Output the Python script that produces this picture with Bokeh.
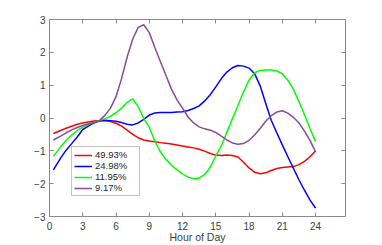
from bokeh.plotting import figure
from bokeh.models import LinearAxis, Range1d, FixedTicker, Legend, LegendItem
from bokeh.embed import file_html
from bokeh.resources import INLINE

hours = [0.35, 1, 1.5, 2, 2.5, 3, 3.5, 4, 4.5, 5, 5.5, 6, 6.5, 7, 7.5, 8, 8.5, 9,
         9.5, 10, 10.5, 11, 11.5, 12, 12.5, 13, 13.5, 14, 14.5, 15, 15.5, 16, 16.5,
         17, 17.5, 18, 18.5, 19, 19.5, 20, 20.5, 21, 21.5, 22, 22.5, 23, 23.5, 24]

red = [-0.47, -0.38, -0.31, -0.25, -0.19, -0.15, -0.12, -0.09, -0.08, -0.08, -0.11,
       -0.16, -0.25, -0.37, -0.50, -0.60, -0.67, -0.70, -0.72, -0.75, -0.77, -0.79,
       -0.82, -0.85, -0.88, -0.91, -0.95, -1.01, -1.08, -1.13, -1.14, -1.13, -1.14,
       -1.19, -1.35, -1.52, -1.65, -1.70, -1.67, -1.60, -1.54, -1.51, -1.49, -1.48,
       -1.42, -1.32, -1.18, -1.00]

blue = [-1.58, -1.22, -0.98, -0.78, -0.58, -0.35, -0.25, -0.15, -0.09, -0.07, -0.08,
        -0.10, -0.14, -0.19, -0.21, -0.15, -0.04, 0.09, 0.15, 0.17, 0.17, 0.17, 0.18,
        0.19, 0.23, 0.29, 0.37, 0.52, 0.71, 0.95, 1.20, 1.40, 1.53, 1.60, 1.58, 1.52,
        1.35, 0.98, 0.45, -0.07, -0.45, -0.82, -1.18, -1.53, -1.88, -2.20, -2.50,
        -2.74]

green = [-1.17, -0.88, -0.68, -0.52, -0.38, -0.28, -0.20, -0.13, -0.08, -0.02, 0.05,
         0.16, 0.30, 0.47, 0.58, 0.35, -0.02, -0.28, -0.70, -1.03, -1.26, -1.43, -1.58,
         -1.70, -1.80, -1.85, -1.83, -1.72, -1.50, -1.15, -0.85, -0.43, -0.02, 0.38,
         0.80, 1.15, 1.38, 1.45, 1.46, 1.46, 1.43, 1.35, 1.15, 0.88, 0.50, 0.10, -0.32,
         -0.72]

purple = [-0.67, -0.55, -0.45, -0.36, -0.29, -0.23, -0.18, -0.13, -0.08, 0.08, 0.30,
          0.65, 1.20, 1.85, 2.40, 2.76, 2.84, 2.60, 2.15, 1.72, 1.30, 0.88, 0.55, 0.30,
          0.03, -0.15, -0.27, -0.33, -0.37, -0.44, -0.55, -0.67, -0.76, -0.80, -0.78,
          -0.68, -0.52, -0.32, -0.10, 0.07, 0.18, 0.22, 0.15, 0.02, -0.15, -0.40, -0.68,
          -1.04]

labels = ["49.93%", "24.98%", "11.95%", "9.17%"]
colors = ["#ff0000", "#0000ff", "#00ff00", "#8a4a9a"]
series = [red, blue, green, purple]

x_ticks = [0, 3, 6, 9, 12, 15, 18, 21, 24]
y_ticks = [-3, -2, -1, 0, 1, 2, 3]

FONT = "Liberation Sans"
AX = "#8a8a8a"
TXT = "#404040"

p = figure(width=374, height=245, output_backend="svg", toolbar_location=None,
           x_range=Range1d(0, 26.7), y_range=Range1d(-3, 3),
           min_border_left=49, min_border_right=29, min_border_top=19,
           min_border_bottom=0)
p.background_fill_color = "white"
p.border_fill_color = "white"
p.outline_line_color = AX
p.outline_line_width = 1
p.xgrid.visible = False
p.ygrid.visible = False

def style(ax, labels_on=True):
    ax.axis_line_color = None
    ax.major_tick_line_color = AX
    ax.major_tick_in = 4
    ax.major_tick_out = 0
    ax.minor_tick_line_color = None
    ax.major_label_text_font = FONT
    ax.major_label_text_font_size = "10px"
    ax.major_label_text_color = TXT if labels_on else None
    ax.axis_label_text_font = FONT
    ax.axis_label_text_font_size = "10.5px"
    ax.axis_label_text_font_style = "normal"
    ax.axis_label_text_color = TXT

p.xaxis.ticker = FixedTicker(ticks=x_ticks)
p.yaxis.ticker = FixedTicker(ticks=y_ticks)
p.xaxis.axis_label = "Hour of Day"
p.xaxis.axis_label_standoff = -2
p.xaxis.major_label_standoff = 5
p.yaxis.major_label_standoff = 4
style(p.xaxis[0])
style(p.yaxis[0])

top = LinearAxis(ticker=FixedTicker(ticks=x_ticks))
style(top, False)
top.major_label_text_font_size = "0px"
top.major_label_standoff = 0
p.add_layout(top, "above")
right = LinearAxis(ticker=FixedTicker(ticks=y_ticks))
style(right, False)
right.major_label_text_font_size = "0px"
right.major_label_standoff = 0
p.add_layout(right, "right")

items = []
for lab, col, ys in zip(labels, colors, series):
    r = p.line(hours, ys, line_color=col, line_width=1.5)
    items.append(LegendItem(label=lab, renderers=[r]))

legend = Legend(items=items, location=(22, 20))
legend.label_text_font = FONT
legend.label_text_font_size = "9.5px"
legend.label_text_color = "#262626"
legend.glyph_width = 18
legend.glyph_height = 10
legend.label_height = 10
legend.label_width = 42
legend.label_standoff = 3
legend.spacing = 0
legend.padding = 2
legend.margin = 0
legend.border_line_color = AX
legend.border_line_width = 1
legend.background_fill_alpha = 1
p.add_layout(legend, "center")

open("out.html", "w").write(file_html(p, INLINE))
